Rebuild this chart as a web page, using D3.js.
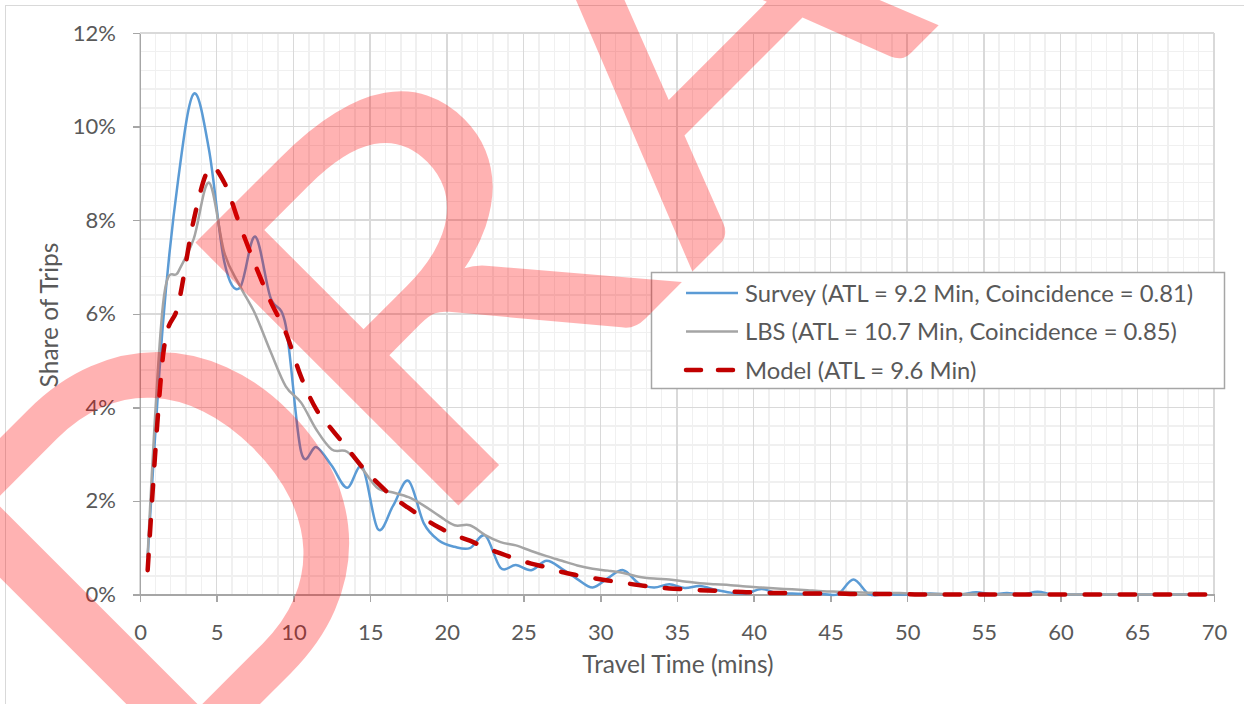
<!DOCTYPE html>
<html><head><meta charset="utf-8">
<script src="https://cdn.jsdelivr.net/npm/d3@7"></script>
<style>html,body{margin:0;padding:0;background:#fff;} svg{display:block;}</style>
</head><body><svg id="chart" width="1244" height="704"></svg>
<script>
// ---- data ----
const minutes = [0.5,1.5,2.5,3.5,4.5,5.5,6.5,7.5,8.5,9.5,10.5,11.5,12.5,13.5,14.5,15.5,16.5,17.5,18.5,19.5,
  20.5,21.5,22.5,23.5,24.5,25.5,26.5,27.5,28.5,29.5,30.5,31.5,32.5,33.5,34.5,35.5,36.5,37.5,38.5,39.5,
  40.5,41.5,42.5,43.5,44.5,45.5,46.5,47.5,48.5,49.5,50.5,51.5,52.5,53.5,54.5,55.5,56.5,57.5,58.5,59.5,
  60.5,61.5,62.5,63.5,64.5,65.5,66.5,67.5,68.5,69.5];
const survey = [0.8,5.8,8.9,10.7,9.5,7.1,6.55,7.65,6.35,5.75,3.05,3.15,2.75,2.28,2.72,1.40,1.9,2.43,1.52,1.15,
  1.02,0.99,1.26,0.57,0.63,0.52,0.72,0.55,0.33,0.15,0.35,0.52,0.24,0.15,0.22,0.14,0.18,0.10,0.04,0.02,
  0.12,0.03,0.02,0.01,0.01,0.01,0.32,0.01,0,0,0,0.02,0,0,0.05,0,0.03,0,0.06,0,
  0,0,0,0,0,0,0,0,0,0];
const lbs = [0.85,6.2,6.9,7.6,8.8,7.3,6.6,6.0,5.2,4.45,4.1,3.52,3.1,3.05,2.68,2.27,2.18,2.08,1.9,1.68,
  1.48,1.48,1.27,1.12,1.05,0.93,0.82,0.72,0.62,0.55,0.51,0.46,0.38,0.34,0.32,0.28,0.24,0.22,0.2,0.17,
  0.15,0.13,0.11,0.09,0.07,0.06,0.05,0.04,0.03,0.03,0.02,0.01,0.01,0.01,0.01,0,0,0,0,0,
  0,0,0,0,0,0,0,0,0,0];
const model = [0.52,5.1,6.2,8.0,9.1,8.8,7.9,7.05,6.27,5.6,4.65,3.95,3.53,3.13,2.72,2.38,2.08,1.85,1.63,1.43,
  1.27,1.15,1.0,0.88,0.76,0.66,0.58,0.48,0.41,0.35,0.3,0.25,0.2,0.16,0.13,0.11,0.09,0.08,0.06,0.05,
  0.04,0.03,0.03,0.02,0.02,0.02,0.01,0.01,0.01,0.01,0,0,0,0,0,0,0,0,0,0,
  0,0,0,0,0,0,0,0,0,0];
const xTicks = [0,5,10,15,20,25,30,35,40,45,50,55,60,65,70];
const yTicks = [0,2,4,6,8,10,12];
const yTickLabels = ["0%","2%","4%","6%","8%","10%","12%"];
const seriesNames = ["Survey (ATL = 9.2 Min, Coincidence = 0.81)",
                     "LBS (ATL = 10.7 Min, Coincidence = 0.85)",
                     "Model (ATL = 9.6 Min)"];
const xTitle = "Travel Time (mins)";
const yTitle = "Share of Trips";
const watermarkLetters = ["D","R","A","F","T"];

// ---- drawing ----
const svg = d3.select("#chart");
const FONT = "Lato, 'Open Sans', sans-serif";
svg.append("rect").attr("width",1244).attr("height",704).attr("fill","#fff");
svg.append("rect").attr("x",5.5).attr("y",5.5).attr("width",1300).attr("height",800)
   .attr("fill","none").attr("stroke","#d9d9d9").attr("stroke-width",1);

const x = d3.scaleLinear().domain([0,70]).range([140,1214]);
const y = d3.scaleLinear().domain([0,12]).range([594.5,33]);

const grid = svg.append("g").attr("shape-rendering","crispEdges");
const xMinor = d3.range(0,71,1).filter(d=>d%5!==0);
const yMinor = d3.range(0,31,1).filter(d=>d%5!==0).map(d=>d*0.4);
grid.selectAll(".xm").data(xMinor).join("line")
  .attr("x1",d=>x(d)).attr("x2",d=>x(d)).attr("y1",y(12)).attr("y2",y(0))
  .attr("stroke","#f0f0f0").attr("stroke-width",1.5);
grid.selectAll(".ym").data(yMinor).join("line")
  .attr("x1",x(0)).attr("x2",x(70)).attr("y1",d=>y(d)).attr("y2",d=>y(d))
  .attr("stroke","#f0f0f0").attr("stroke-width",1.5);
grid.selectAll(".xM").data(xTicks).join("line")
  .attr("x1",d=>x(d)).attr("x2",d=>x(d)).attr("y1",y(12)).attr("y2",y(0))
  .attr("stroke","#d9d9d9").attr("stroke-width",1.5);
grid.selectAll(".yM").data(yTicks).join("line")
  .attr("x1",x(0)).attr("x2",x(70)).attr("y1",d=>y(d)).attr("y2",d=>y(d))
  .attr("stroke","#d9d9d9").attr("stroke-width",1.5);

const yAxis = svg.append("g").attr("transform",`translate(${x(0)},0)`)
  .call(d3.axisLeft(y).tickValues(yTicks).tickFormat((d,i)=>yTickLabels[i]).tickSize(7).tickSizeOuter(0).tickPadding(17));
const xAxis = svg.append("g").attr("transform",`translate(0,${y(0)})`)
  .call(d3.axisBottom(x).tickValues(xTicks).tickFormat(d=>String(d)).tickSize(7).tickSizeOuter(0).tickPadding(23));
[yAxis,xAxis].forEach(a=>{
  a.selectAll("path,line").attr("stroke","#a6a6a6").attr("stroke-width",1.5).attr("shape-rendering","crispEdges");
  a.selectAll("text").attr("fill","#595959").style("font-family",FONT).style("font-size","22px");
});

svg.append("text").attr("x",678).attr("y",673).attr("text-anchor","middle")
  .style("font-family",FONT).style("font-size","24.5px").attr("fill","#595959").text(xTitle);
svg.append("text").attr("transform","translate(58,315) rotate(-90)").attr("text-anchor","middle")
  .style("font-family",FONT).style("font-size","24.5px").attr("fill","#595959").text(yTitle);

const series = [
  {name:seriesNames[0], vals:survey, color:"#5b9bd5", width:2.5, dash:null},
  {name:seriesNames[1], vals:lbs, color:"#a5a5a5", width:2.5, dash:null},
  {name:seriesNames[2], vals:model, color:"#c00000", width:4.5, dash:"15.5,19.5"}
];
const line = d3.line().x(d=>x(d[0])).y(d=>y(d[1])).curve(d3.curveCardinal.tension(0));
series.forEach(s=>{
  svg.append("path").datum(minutes.map((m,i)=>[m,s.vals[i]]))
    .attr("d",line).attr("fill","none").attr("stroke",s.color).attr("stroke-width",s.width)
    .attr("stroke-linejoin","round").attr("stroke-linecap",s.dash?"round":"butt")
    .attr("stroke-dasharray",s.dash);
});

// legend
const lg = svg.append("g");
lg.append("rect").attr("x",651.5).attr("y",272.5).attr("width",573).attr("height",116)
  .attr("fill","#fff").attr("stroke","#a6a6a6").attr("stroke-width",1.5);
series.forEach((s,i)=>{
  const cy = 293 + i*38.5;
  lg.append("line").attr("x1",686).attr("x2",738).attr("y1",cy).attr("y2",cy)
    .attr("stroke",s.color).attr("stroke-width",s.width)
    .attr("stroke-dasharray",s.dash?"15,17":null).attr("stroke-linecap",s.dash?"round":"butt");
  lg.append("text").attr("x",745).attr("y",cy).attr("dy","0.36em")
    .style("font-family",FONT).style("font-size","23.8px").attr("fill","#595959").text(s.name);
});

// watermark (rotated text, letter by letter)
const wmPlace = [{s:-456, k:1},{s:-88, k:1.15},{s:296, k:1},{s:700, k:1},{s:1000, k:1}];
const wm = svg.append("g").attr("transform","translate(482,482) rotate(-45)")
  .attr("fill","#ff0000").attr("fill-opacity",0.3);
watermarkLetters.forEach((ch,i)=>{
  wm.append("text").attr("transform",`translate(${wmPlace[i].s},0) scale(${wmPlace[i].k},1)`)
    .style("font-family","Lato, sans-serif").style("font-size","519px").text(ch);
});
</script></body></html>
